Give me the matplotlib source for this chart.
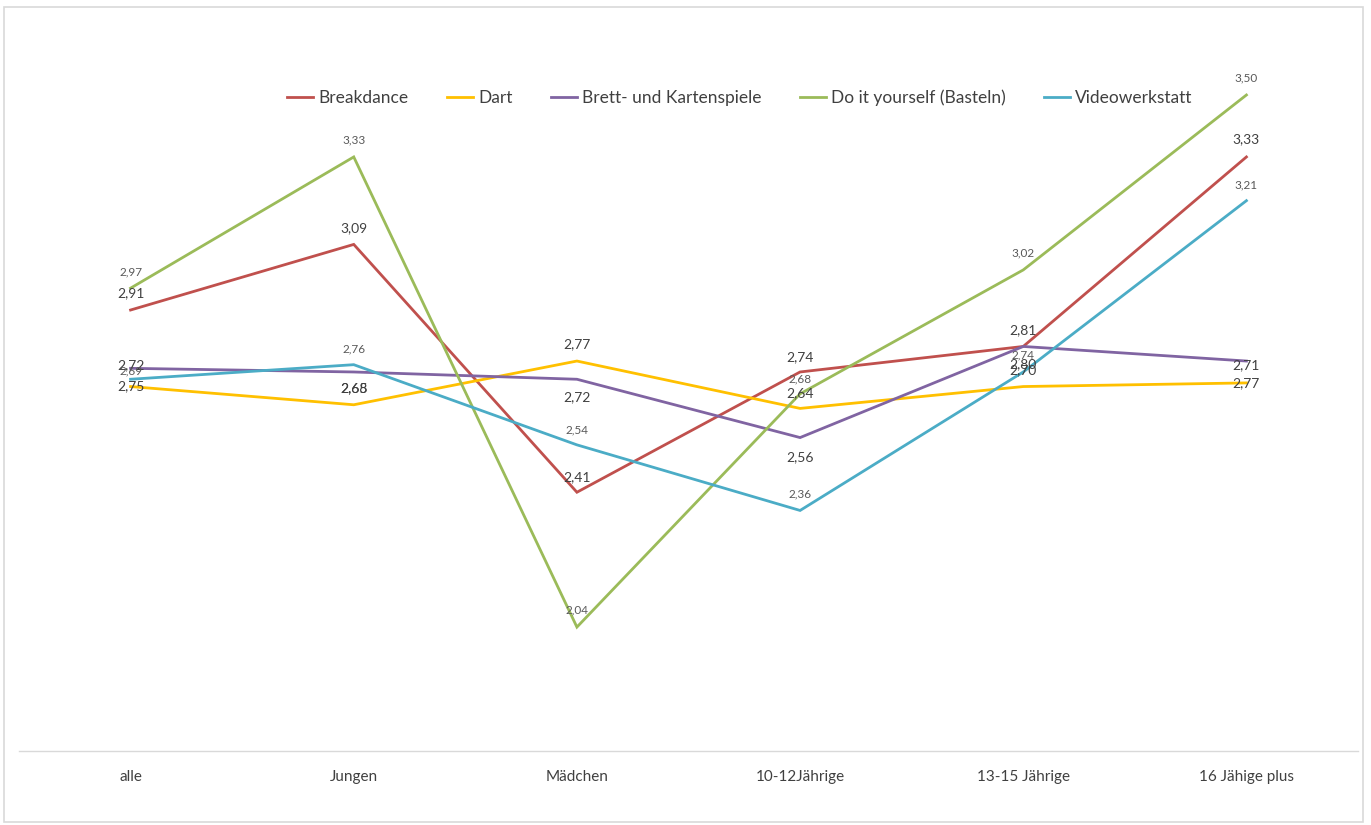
import matplotlib.pyplot as plt
from matplotlib.patches import Rectangle

# ======
# data
# ======
categories = ['alle', 'Jungen', 'Mädchen', '10-12Jährige', '13-15 Jährige', '16 Jähige plus']
series_names = ['Breakdance', 'Dart', 'Brett- und Kartenspiele', 'Do it yourself (Basteln)', 'Videowerkstatt']

breakdance = [2.91, 3.09, 2.41, 2.74, 2.81, 3.33]
dart = [2.70, 2.65, 2.77, 2.64, 2.70, 2.71]
brett = [2.75, 2.74, 2.72, 2.56, 2.81, 2.77]
diy = [2.97, 3.33, 2.04, 2.68, 3.02, 3.50]
video = [2.72, 2.76, 2.54, 2.36, 2.74, 3.21]

# data labels as printed in the chart
breakdance_lbl = ['2,91', '3,09', '2,41', '2,74', '2,81', '3,33']
dart_lbl = ['2,75', '2,65', '2,77', '2,64', '2,70', '2,77']
brett_lbl = ['2,72', '2,68', '2,72', '2,56', '2,80', '2,71']
diy_lbl = ['2,97', '3,33', '2,04', '2,68', '3,02', '3,50']
video_lbl = ['2,69', '2,76', '2,54', '2,36', '2,74', '3,21']

# ======
# style
# ======
colors = ['#C0504D', '#FFC000', '#8064A2', '#9BBB59', '#4BACC6']
# label offsets in points (dy); positive = up
offsets = [
    [12, 12, 11, 11, 12, 13],
    [0, 12, 12, 11, 12, 0],
    [2, -12, -13, -14, -13, -3],
    [12, 12, 12, 11, 12, 12],
    [6, 11, 11, 12, 12, 11],
]
big_lbl = [True, True, True, False, False]

plt.rcParams['font.family'] = ['Lato', 'DejaVu Sans']

fig = plt.figure(figsize=(13.71, 8.25), dpi=100)
fig.patches.append(Rectangle((4 / 1371, 3 / 825), 1359 / 1371, 815 / 825,
                             transform=fig.transFigure, fill=False,
                             edgecolor='#d9d9d9', linewidth=1.2))

ax = fig.add_axes([19 / 1371, 1 - 751 / 825, 1339 / 1371, 691 / 825])

all_vals = [breakdance, dart, brett, diy, video]
all_lbls = [breakdance_lbl, dart_lbl, brett_lbl, diy_lbl, video_lbl]
x = list(range(len(categories)))

for name, vals, col in zip(series_names, all_vals, colors):
    ax.plot(x, vals, color=col, linewidth=2.0, label=name, solid_joinstyle='miter')

for i, (vals, lbls) in enumerate(zip(all_vals, all_lbls)):
    for xi, v, t, dy in zip(x, vals, lbls, offsets[i]):
        if big_lbl[i]:
            ax.annotate(t, (xi, v), xytext=(0, dy), textcoords='offset points',
                        ha='center', va='center', fontsize=10, color='#404040')
        else:
            ax.annotate(t, (xi, v), xytext=(0, dy), textcoords='offset points',
                        ha='center', va='center', fontsize=8.5, color='#595959')

ax.set_xlim(-0.5, 5.5)
ax.set_ylim(1.70, 3.596)
ax.set_xticks(x)
ax.set_xticklabels(categories, fontsize=11, color='#404040')
ax.tick_params(axis='x', length=0, pad=14)
ax.set_yticks([])
for s in ['top', 'right', 'left']:
    ax.spines[s].set_visible(False)
ax.spines['bottom'].set_color('#d9d9d9')
ax.spines['bottom'].set_linewidth(1.0)

ax.legend(loc='center', bbox_to_anchor=(740 / 1371, 1 - 98 / 825),
          bbox_transform=fig.transFigure, ncol=5, frameon=False,
          fontsize=12.5, handlelength=1.5, handletextpad=0.3, columnspacing=2.2,
          labelcolor='#404040')

fig.savefig('out.png', dpi=100)
